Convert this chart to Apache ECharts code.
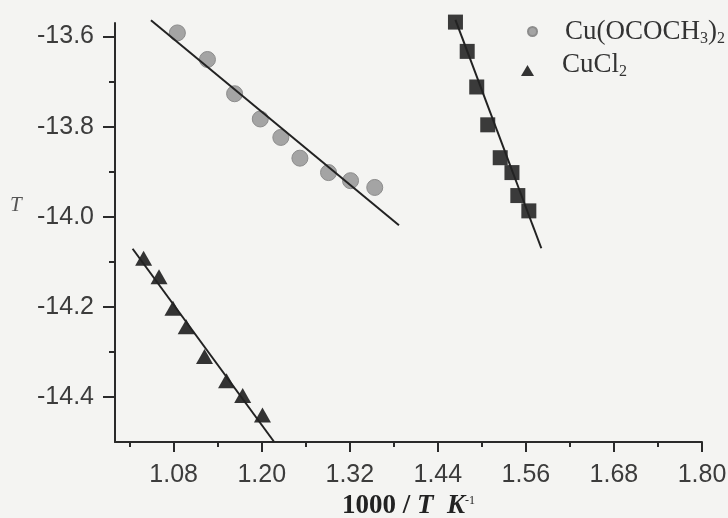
<!DOCTYPE html>
<html>
<head>
<meta charset="utf-8">
<script src="https://cdn.jsdelivr.net/npm/echarts@6/dist/echarts.min.js"></script>
<style>
  html, body { margin: 0; padding: 0; background: #f4f4f2; }
  #chart { width: 728px; height: 518px; }
</style>
</head>
<body>
<div id="chart"></div>
<script>
// 数据点 (1000/T, 纵坐标)
const ACETATE_X = [1.085, 1.126, 1.163, 1.198, 1.226, 1.252, 1.291, 1.321, 1.354];
const ACETATE_Y = [-13.592, -13.651, -13.727, -13.783, -13.824, -13.870, -13.902, -13.920, -13.935];

const CHLORIDE_X = [1.039, 1.060, 1.079, 1.097, 1.122, 1.152, 1.174, 1.201];
const CHLORIDE_Y = [-14.092, -14.133, -14.203, -14.244, -14.310, -14.364, -14.397, -14.440];

const SQUARE_X = [1.464, 1.480, 1.493, 1.508, 1.525, 1.541, 1.549, 1.564];
const SQUARE_Y = [-13.568, -13.633, -13.712, -13.796, -13.869, -13.902, -13.953, -13.987];

// 拟合直线端点
const ACETATE_FIT = [[1.049, -13.564], [1.387, -14.019]];
const CHLORIDE_FIT = [[1.024, -14.071], [1.217, -14.5]];
const SQUARE_FIT = [[1.464, -13.563], [1.581, -14.07]];

// 刻度
const X_LABELS = [1.08, 1.20, 1.32, 1.44, 1.56, 1.68, 1.80];
const X_MINOR = [1.02, 1.14, 1.26, 1.38, 1.50, 1.62, 1.74];
const Y_LABELS = [-14.4, -14.2, -14.0, -13.8, -13.6];
const Y_MINOR = [-14.3, -14.1, -13.9, -13.7];

const zip = (xs, ys) => xs.map((x, i) => [x, ys[i]]);

const chart = echarts.init(document.getElementById('chart'));

const axisColor = '#2a2a2a';
const labelStyle = { fontFamily: 'Liberation Sans', fontSize: 25, color: '#3c3c3c' };
const legendRich = {
  g: { width: 23 },
  n: { fontFamily: 'Liberation Serif', fontSize: 27, color: '#333', lineHeight: 30 },
  s: { fontFamily: 'Liberation Serif', fontSize: 16, color: '#333', padding: [14, 0, 0, 0] }
};

const option = {
  backgroundColor: '#f4f4f2',
  animation: false,
  grid: { left: 115, right: 26, top: 23, bottom: 76, outerBoundsMode: 'none' },
  legend: [
    {
      left: 522,
      top: 13,
      itemWidth: 9,
      itemHeight: 9,
      data: [{ name: 'Cu(OCOCH3)2', icon: 'circle', itemStyle: { color: '#a4a4a4' } }],
      formatter: () => '{g|}{n|Cu(OCOCH}{s|3}{n|)}{s|2}',
      textStyle: { rich: legendRich }
    },
    {
      left: 516,
      top: 46,
      itemWidth: 13,
      itemHeight: 11,
      data: [{ name: 'CuCl2', icon: 'triangle', itemStyle: { color: '#333' } }],
      formatter: () => '{g|}{n|CuCl}{s|2}',
      textStyle: { rich: legendRich, padding: [0, 0, 12, 0] }
    }
  ],
  xAxis: [
    {
      type: 'value',
      min: 1.0,
      max: 1.8,
      name: '{b|1000 / }{i|T  K}{sup|-1}',
      nameLocation: 'middle',
      nameGap: 51,
      nameTextStyle: {
        rich: {
          b: { fontFamily: 'Liberation Serif', fontWeight: 'bold', fontSize: 27, color: '#222' },
          i: { fontFamily: 'Liberation Serif', fontWeight: 'bold', fontStyle: 'italic', fontSize: 27, color: '#222' },
          sup: { fontFamily: 'Liberation Serif', fontSize: 12, color: '#222', padding: [0, 0, 12, 0] }
        }
      },
      axisLine: { onZero: false, lineStyle: { color: axisColor, width: 2 } },
      axisTick: { customValues: X_LABELS, length: 10, lineStyle: { color: axisColor, width: 2 } },
      axisLabel: {
        customValues: X_LABELS,
        margin: 21,
        formatter: v => v.toFixed(2),
        ...labelStyle
      },
      splitLine: { show: false }
    },
    {
      type: 'value',
      min: 1.0,
      max: 1.8,
      position: 'bottom',
      axisLine: { show: false },
      axisTick: { customValues: X_MINOR, length: 5, lineStyle: { color: axisColor, width: 2 } },
      axisLabel: { show: false },
      splitLine: { show: false }
    }
  ],
  yAxis: [
    {
      type: 'value',
      min: -14.5,
      max: -13.57,
      axisLine: { onZero: false, lineStyle: { color: axisColor, width: 2 } },
      axisTick: { customValues: Y_LABELS, length: 12, lineStyle: { color: axisColor, width: 2 } },
      axisLabel: {
        customValues: Y_LABELS,
        margin: 21,
        formatter: v => v.toFixed(1),
        ...labelStyle
      },
      splitLine: { show: false }
    },
    {
      type: 'value',
      min: -14.5,
      max: -13.57,
      position: 'left',
      axisLine: { show: false },
      axisTick: { customValues: Y_MINOR, length: 6, lineStyle: { color: axisColor, width: 2 } },
      axisLabel: { show: false },
      splitLine: { show: false }
    }
  ],
  graphic: [
    {
      type: 'text',
      left: 10,
      top: 195,
      style: { text: 'T', font: 'italic 21px "Liberation Serif"', fill: '#555' }
    }
  ],
  series: [
    {
      name: 'fit1',
      type: 'line',
      data: ACETATE_FIT,
      symbol: 'none',
      clip: false,
      lineStyle: { color: '#222', width: 2 },
      z: 3
    },
    {
      name: 'fit2',
      type: 'line',
      data: CHLORIDE_FIT,
      symbol: 'none',
      clip: false,
      lineStyle: { color: '#222', width: 2 },
      z: 3
    },
    {
      name: 'fit3',
      type: 'line',
      data: SQUARE_FIT,
      symbol: 'none',
      clip: false,
      lineStyle: { color: '#222', width: 2 },
      z: 3
    },
    {
      name: 'Cu(OCOCH3)2',
      type: 'scatter',
      data: zip(ACETATE_X, ACETATE_Y),
      symbol: 'circle',
      symbolSize: 16,
      itemStyle: { color: '#a4a4a4', borderColor: '#8c8c8c', borderWidth: 1, opacity: 1 },
      z: 2
    },
    {
      name: 'CuCl2',
      type: 'scatter',
      data: zip(CHLORIDE_X, CHLORIDE_Y),
      symbol: 'triangle',
      symbolSize: [17, 15],
      itemStyle: { color: '#333', opacity: 1 },
      z: 2
    },
    {
      name: 'square',
      type: 'scatter',
      data: zip(SQUARE_X, SQUARE_Y),
      symbol: 'rect',
      symbolSize: 15,
      clip: false,
      itemStyle: { color: '#3a3a3a', opacity: 1 },
      z: 2
    }
  ]
};

chart.setOption(option);
</script>
</body>
</html>
